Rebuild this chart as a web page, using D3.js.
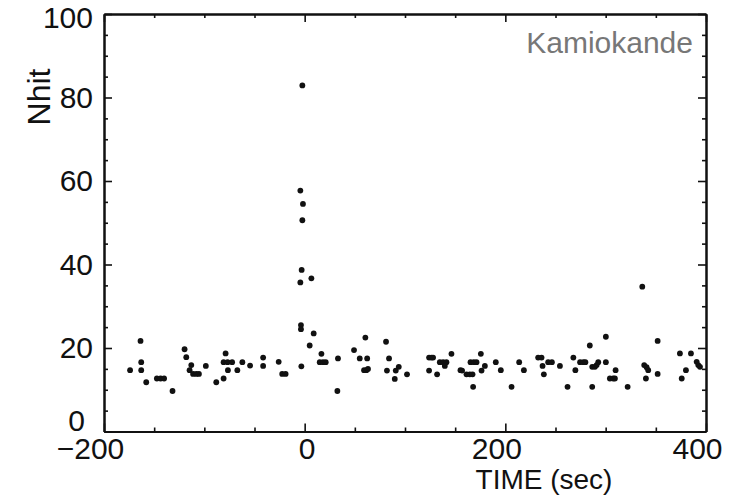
<!DOCTYPE html>
<html>
<head>
<meta charset="utf-8">
<script src="https://cdn.jsdelivr.net/npm/d3@7"></script>
<style>
  body { margin: 0; background: #fff; }
  svg text { font-family: "Liberation Sans", Arial, sans-serif; }
</style>
</head>
<body>
<div id="chart"></div>
<script>
// event times (sec) and Nhit
const times = [
    -174, -163.6, -162.9, -162.9, -157.9, -147.3, -143.6, -140.1, -131.7, -119.7,
    -118, -113, -114.7, -111.2, -108, -105.4, -98.5, -88.1, -80.8, -78.8,
    -80.8, -76.8, -76.5, -72.3, -67.1, -62.1, -54.4, -41.4, -41.4, -25.9,
    -22.4, -19, -3.7, -3.7, -3.3, 5, 9, 16.7, 15, 18.3,
    21, -2.3, -4.3, -1.7, -2.3, -3, -4.3, 6.7, 33.2, 32.6,
    49.2, 54.9, 60.5, 62.3, 59.2, 61.5, 63.1, 81.1, 84.1, 82,
    90.8, 93.8, 89.8, 102, 124, 126.4, 128, 124, 132, 134.7,
    138, 141.3, 139.7, 146.3, 155.3, 156.9, 161.3, 164.6, 167.3, 167.9,
    165.3, 168.6, 171.3, 175.6, 176.3, 179.6, 190.5, 195.5, 206.2, 213.8,
    218.5, 232.7, 236.1, 237.1, 238.4, 242.7, 246.4, 254.4, 262, 267.8,
    269.8, 274.5, 277.8, 279.8, 284.2, 286.6, 289.3, 291, 292.6, 286.6,
    300.2, 300.2, 309.9, 304.2, 307.5, 309.2, 321.9, 336.5, 338.4, 340.8,
    342.4, 340.1, 351.8, 351.8, 374, 375.8, 380, 385, 390.7, 392.3,
    394
];
const nhit = [
    14.7, 21.7, 16.6, 14.7, 11.8, 12.7, 12.7, 12.7, 9.7, 19.7,
    17.8, 15.9, 14.7, 13.8, 13.8, 13.8, 15.7, 11.8, 12.7, 18.7,
    16.6, 16.6, 14.7, 16.6, 14.7, 16.6, 15.8, 17.7, 15.7, 16.7,
    13.8, 13.8, 25.5, 24.5, 15.6, 20.6, 23.5, 18.6, 16.6, 16.6,
    16.6, 82.9, 57.7, 54.5, 50.6, 38.7, 35.7, 36.7, 17.5, 9.7,
    19.5, 17.5, 22.5, 17.5, 14.7, 14.7, 15, 21.5, 17.5, 14.6,
    14.6, 15.5, 12.6, 13.7, 17.7, 17.7, 17.7, 14.6, 13.7, 16.6,
    16.6, 16.6, 15.7, 18.6, 14.7, 14.6, 13.7, 13.7, 13.7, 10.7,
    16.6, 16.6, 16.6, 18.6, 14.6, 15.7, 16.6, 14.7, 10.7, 16.6,
    14.7, 17.7, 17.7, 15.7, 13.7, 16.6, 16.6, 15.7, 10.7, 17.7,
    14.7, 16.6, 16.6, 16.6, 20.6, 15.5, 15.5, 15.9, 16.6, 10.7,
    22.7, 16.6, 14.7, 12.7, 12.7, 12.7, 10.7, 34.7, 15.9, 15.4,
    14.7, 12.7, 21.7, 13.8, 18.7, 12.7, 14.7, 18.7, 16.7, 15.9,
    15.5
];

const xMajor = [-200, 0, 200, 400];
const xMinor = [-150, -100, -50, 50, 100, 150, 250, 300, 350];
const yMajor = [0, 20, 40, 60, 80, 100];
const yMinor = [5, 10, 15, 25, 30, 35, 45, 50, 55, 65, 70, 75, 85, 90, 95];

const width = 750, height = 495;
const margin = {top: 14, right: 44, bottom: 63.5, left: 104};
const w = width - margin.left - margin.right;
const h = height - margin.top - margin.bottom;

const svg = d3.select("#chart")
    .append("svg")
    .attr("width", width)
    .attr("height", height);

const g = svg.append("g")
    .attr("transform", `translate(${margin.left},${margin.top})`);

const x = d3.scaleLinear().domain([-200, 400]).range([0, w]);
const y = d3.scaleLinear().domain([0, 100]).range([h, 0]);

const tickLabel = d => d < 0 ? "\u2212" + Math.abs(d) : String(d);

// bottom axis with labels
const xAxis = g.append("g")
    .attr("transform", `translate(0,${h})`)
    .call(d3.axisBottom(x).tickValues(xMajor).tickSizeInner(-8).tickSizeOuter(0)
        .tickPadding(6).tickFormat(tickLabel));
xAxis.selectAll("text")
    .attr("dx", d => d === 0 ? 2 : (d < 0 ? -14 : -9));

g.append("g")
    .attr("transform", `translate(0,${h})`)
    .call(d3.axisBottom(x).tickValues(xMinor).tickSizeInner(-4).tickSizeOuter(0).tickFormat(""));

// top axis, ticks only
g.append("g")
    .call(d3.axisTop(x).tickValues(xMajor).tickSizeInner(-8).tickSizeOuter(0).tickFormat(""));
g.append("g")
    .call(d3.axisTop(x).tickValues(xMinor).tickSizeInner(-4).tickSizeOuter(0).tickFormat(""));

// left axis with labels
const yAxis = g.append("g")
    .call(d3.axisLeft(y).tickValues(yMajor).tickSizeInner(-8).tickSizeOuter(0).tickPadding(11));
yAxis.selectAll("text")
    .attr("dx", d => d === 0 ? -8 : 0)
    .attr("dy", d => d === 0 ? "-0.04em" : (d === 100 ? "0.45em" : "0.32em"));

g.append("g")
    .call(d3.axisLeft(y).tickValues(yMinor).tickSizeInner(-4).tickSizeOuter(0).tickFormat(""));

// right axis, ticks only
g.append("g")
    .attr("transform", `translate(${w},0)`)
    .call(d3.axisRight(y).tickValues(yMajor).tickSizeInner(-8).tickSizeOuter(0).tickFormat(""));
g.append("g")
    .attr("transform", `translate(${w},0)`)
    .call(d3.axisRight(y).tickValues(yMinor).tickSizeInner(-4).tickSizeOuter(0).tickFormat(""));

g.selectAll(".domain").attr("stroke", "#111").attr("stroke-width", 2);
g.selectAll(".tick line").attr("stroke", "#111").attr("stroke-width", 1.6);
g.selectAll(".tick text")
    .attr("fill", "#111")
    .style("font-size", "30px")
    .style("font-family", "'Liberation Sans', Arial, sans-serif");

// data points
g.selectAll("circle.pt")
    .data(times.map((t, i) => ({t: t, n: nhit[i]})))
    .join("circle")
    .attr("class", "pt")
    .attr("cx", d => x(d.t))
    .attr("cy", d => y(d.n))
    .attr("r", 2.9)
    .attr("fill", "#111");

// axis titles
svg.append("text")
    .attr("x", 544)
    .attr("y", 489)
    .attr("text-anchor", "middle")
    .attr("fill", "#111")
    .style("font-size", "28px")
    .text("TIME (sec)");

svg.append("text")
    .attr("transform", "translate(50,97) rotate(-90)")
    .attr("text-anchor", "middle")
    .attr("fill", "#111")
    .style("font-size", "32px")
    .text("Nhit");

svg.append("text")
    .attr("x", 693)
    .attr("y", 53)
    .attr("text-anchor", "end")
    .attr("fill", "#777")
    .style("font-size", "30px")
    .text("Kamiokande");
</script>
</body>
</html>
